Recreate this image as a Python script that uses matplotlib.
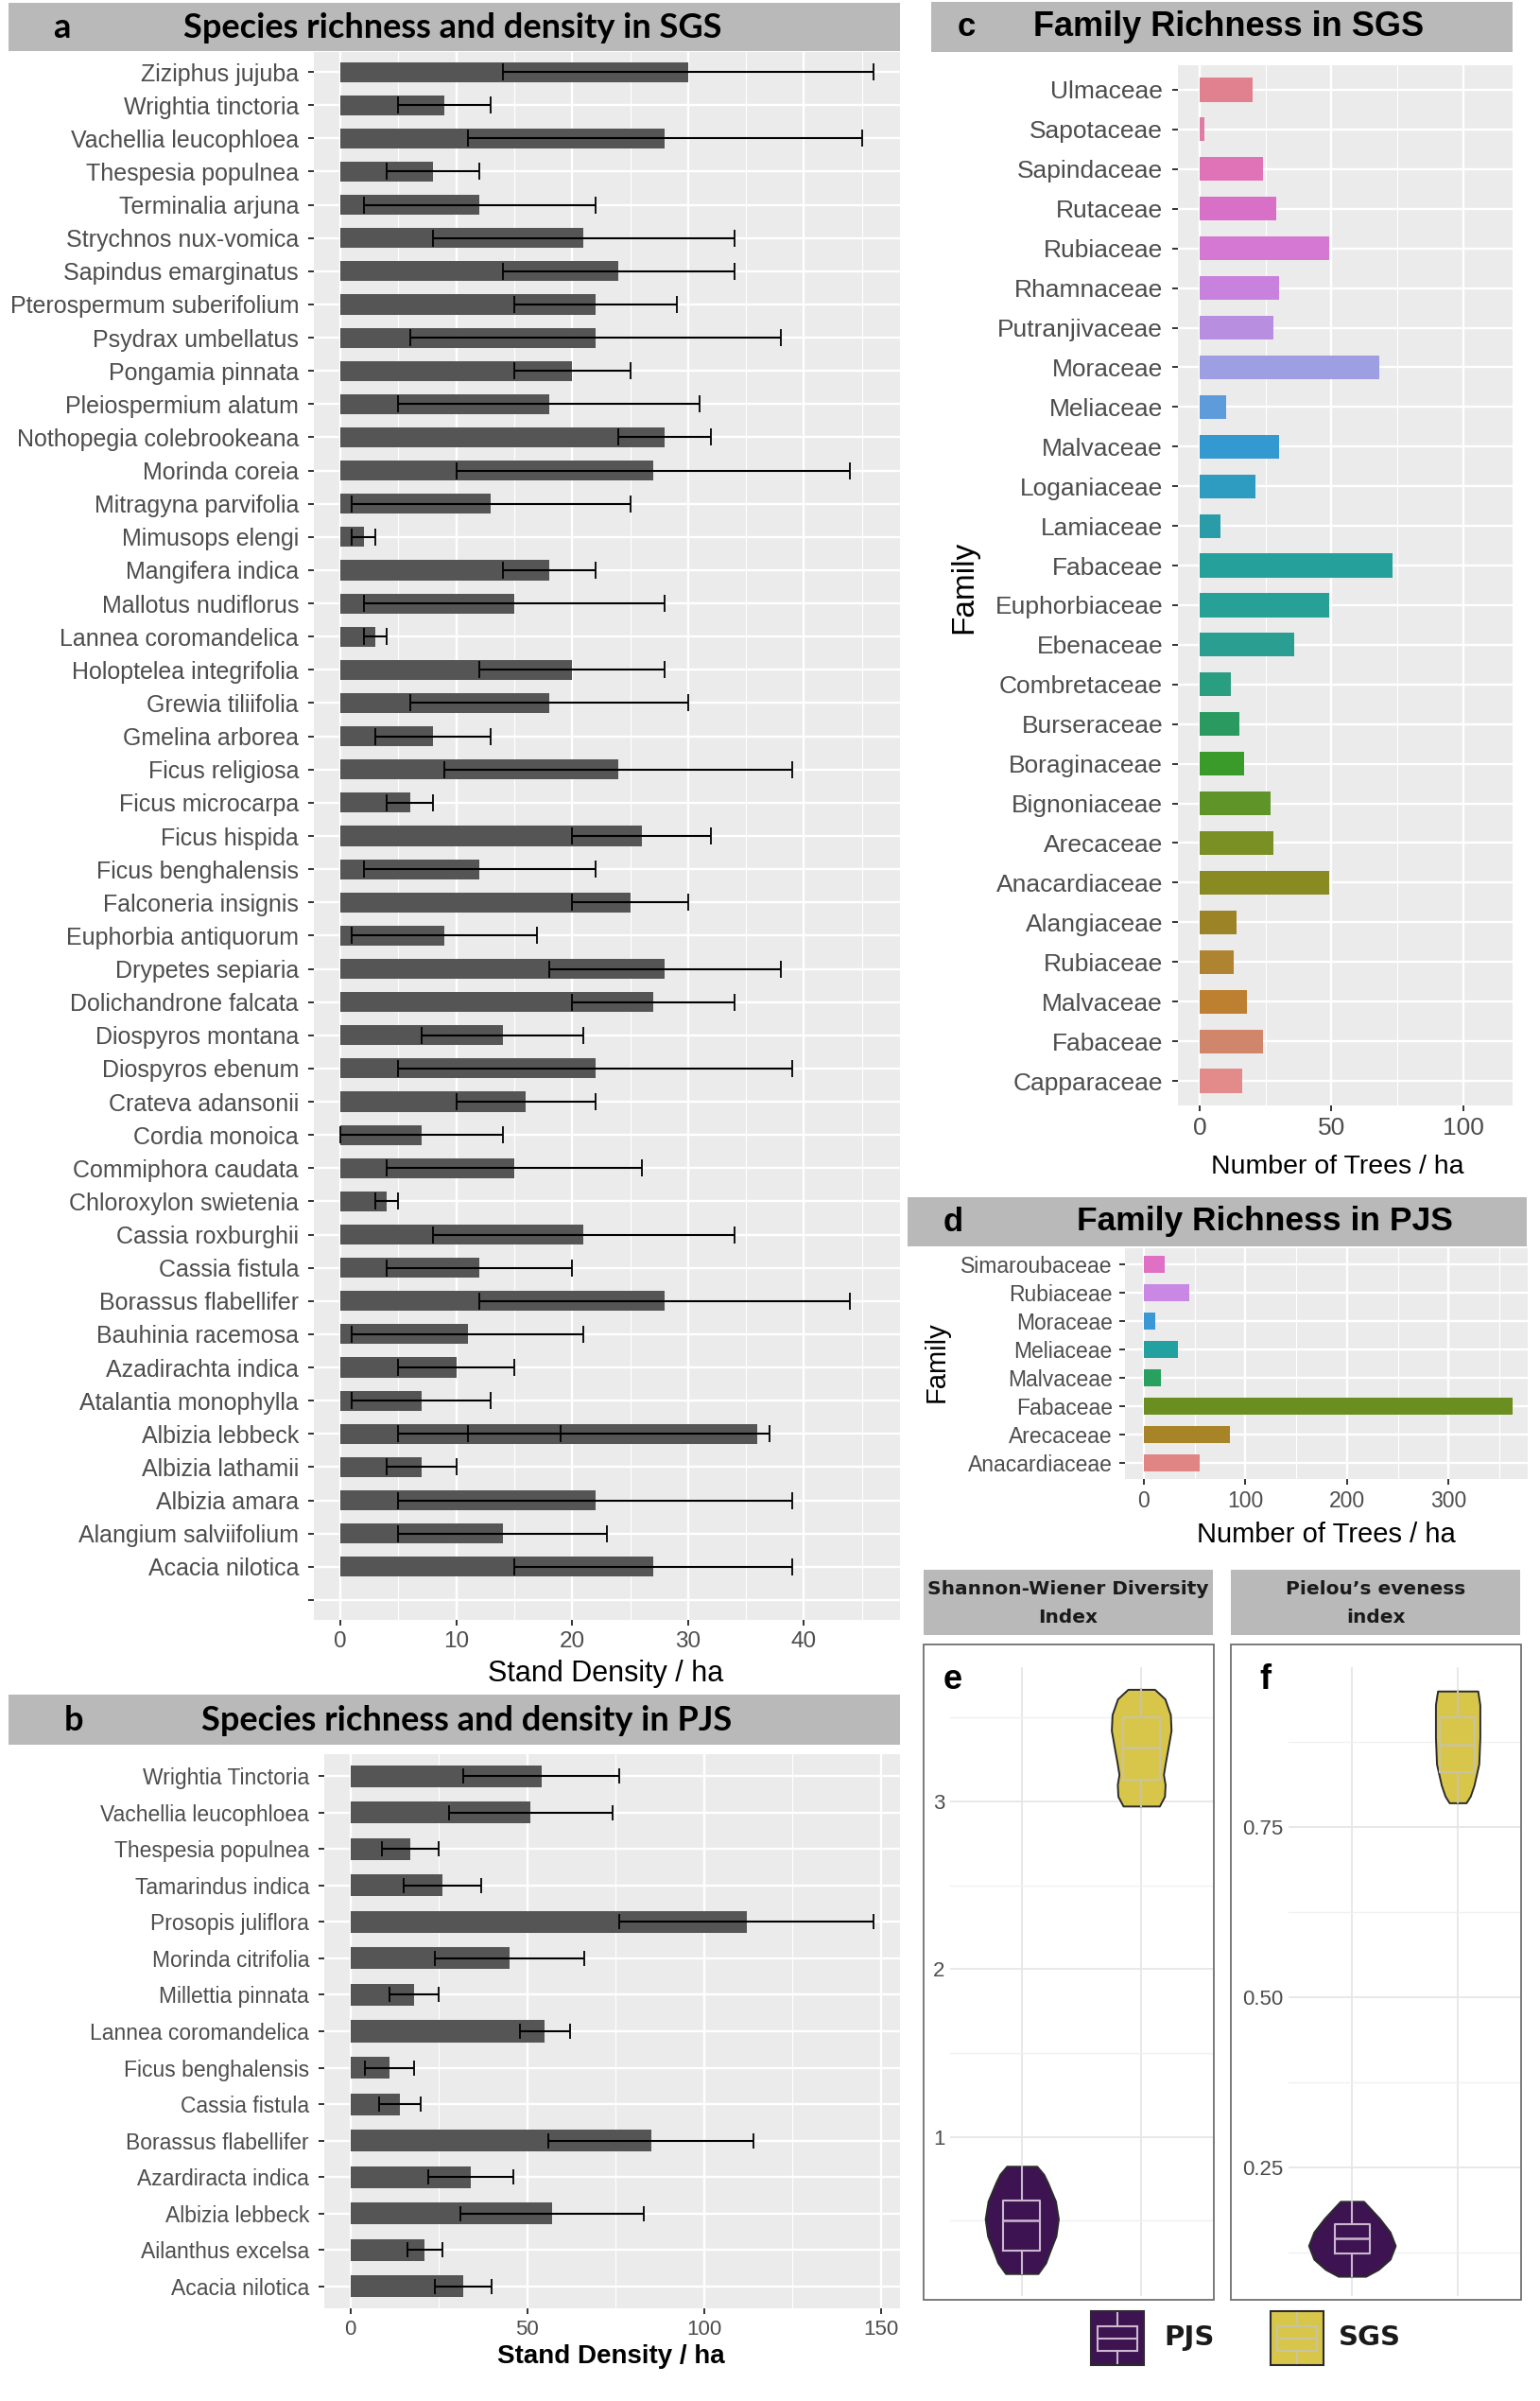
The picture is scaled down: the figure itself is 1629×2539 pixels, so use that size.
import numpy as np
import matplotlib
matplotlib.use("Agg")
import matplotlib.pyplot as plt
from matplotlib.patches import Rectangle
from matplotlib.lines import Line2D

# ---------------- data ----------------
a_species = ["Ziziphus jujuba", "Wrightia tinctoria", "Vachellia leucophloea", "Thespesia populnea",
             "Terminalia arjuna", "Strychnos nux-vomica", "Sapindus emarginatus", "Pterospermum suberifolium",
             "Psydrax umbellatus", "Pongamia pinnata", "Pleiospermium alatum", "Nothopegia colebrookeana",
             "Morinda coreia", "Mitragyna parvifolia", "Mimusops elengi", "Mangifera indica",
             "Mallotus nudiflorus", "Lannea coromandelica", "Holoptelea integrifolia", "Grewia tiliifolia",
             "Gmelina arborea", "Ficus religiosa", "Ficus microcarpa", "Ficus hispida", "Ficus benghalensis",
             "Falconeria insignis", "Euphorbia antiquorum", "Drypetes sepiaria", "Dolichandrone falcata",
             "Diospyros montana", "Diospyros ebenum", "Crateva adansonii", "Cordia monoica",
             "Commiphora caudata", "Chloroxylon swietenia", "Cassia roxburghii", "Cassia fistula",
             "Borassus flabellifer", "Bauhinia racemosa", "Azadirachta indica", "Atalantia monophylla",
             "Albizia lebbeck", "Albizia lathamii", "Albizia amara", "Alangium salviifolium",
             "Acacia nilotica", ""]
a_density = [30, 9, 28, 8, 12, 21, 24, 22, 22, 20, 18, 28, 27, 13, 2, 18, 15, 3, 20, 18, 8, 24, 6, 26, 12,
             25, 9, 28, 27, 14, 22, 16, 7, 15, 4, 21, 12, 28, 11, 10, 7, 36, 7, 22, 14, 27, 0]
a_err_lo = [14, 5, 11, 4, 2, 8, 14, 15, 6, 15, 5, 24, 10, 1, 1, 14, 2, 2, 12, 6, 3, 9, 4, 20, 2,
            20, 1, 18, 20, 7, 5, 10, 0, 4, 3, 8, 4, 12, 1, 5, 1, 5, 4, 5, 5, 15, None]
a_err_hi = [46, 13, 45, 12, 22, 34, 34, 29, 38, 25, 31, 32, 44, 25, 3, 22, 28, 4, 28, 30, 13, 39, 8, 32, 22,
            30, 17, 38, 34, 21, 39, 22, 14, 26, 5, 34, 20, 44, 21, 15, 13, 37, 10, 39, 23, 39, None]
a_extra_err = [("Albizia lebbeck", 11, 19)]

b_species = ["Wrightia Tinctoria", "Vachellia leucophloea", "Thespesia populnea", "Tamarindus indica",
             "Prosopis juliflora", "Morinda citrifolia", "Millettia pinnata", "Lannea coromandelica",
             "Ficus benghalensis", "Cassia fistula", "Borassus flabellifer", "Azardiracta indica",
             "Albizia lebbeck", "Ailanthus excelsa", "Acacia nilotica"]
b_density = [54, 51, 17, 26, 112, 45, 18, 55, 11, 14, 85, 34, 57, 21, 32]
b_err_lo = [32, 28, 9, 15, 76, 24, 11, 48, 4, 8, 56, 22, 31, 16, 24]
b_err_hi = [76, 74, 25, 37, 148, 66, 25, 62, 18, 20, 114, 46, 83, 26, 40]

c_family = ["Ulmaceae", "Sapotaceae", "Sapindaceae", "Rutaceae", "Rubiaceae", "Rhamnaceae", "Putranjivaceae",
            "Moraceae", "Meliaceae", "Malvaceae", "Loganiaceae", "Lamiaceae", "Fabaceae", "Euphorbiaceae",
            "Ebenaceae", "Combretaceae", "Burseraceae", "Boraginaceae", "Bignoniaceae", "Arecaceae",
            "Anacardiaceae", "Alangiaceae", "Rubiaceae", "Malvaceae", "Fabaceae", "Capparaceae"]
c_trees = [20, 2, 24, 29, 49, 30, 28, 68, 10, 30, 21, 8, 73, 49, 36, 12, 15, 17, 27, 28, 49, 14, 13, 18, 24, 16]
c_colors = ["#E1818F", "#E07BA5", "#E073B8", "#D870C8", "#D478D4", "#C882DE", "#B88EE0", "#9E9EE2",
            "#5E9BDB", "#3399D0", "#2E9CC0", "#2A9BA8", "#26A09A", "#27A097", "#2A9E90", "#2A9E80",
            "#2A9A60", "#3A9A2A", "#5E9428", "#7A9024", "#8A8A22", "#9C8426", "#AE8430", "#BC8030",
            "#D0866A", "#E38A8A"]

d_family = ["Simaroubaceae", "Rubiaceae", "Moraceae", "Meliaceae", "Malvaceae", "Fabaceae", "Arecaceae",
            "Anacardiaceae"]
d_trees = [21, 45, 11, 34, 17, 363, 85, 55]
d_colors = ["#E070C4", "#C888E4", "#3A98D6", "#23A0A0", "#27A060", "#6A8E20", "#A88428", "#E08484"]

sites = ["PJS", "SGS"]
site_colors = ["#3D1451", "#D8C64A"]
site_box_colors = ["#CBB8CF", "#C9C4A0"]

# violin outlines: index value and half width (x units)
e_pjs_y = [0.184, 0.248, 0.312, 0.408, 0.51, 0.616, 0.728, 0.776, 0.824]
e_pjs_w = [0.136, 0.2, 0.233, 0.286, 0.306, 0.282, 0.216, 0.183, 0.126]
e_sgs_y = [2.972, 3.03, 3.10, 3.16, 3.235, 3.329, 3.423, 3.517, 3.611, 3.668]
e_sgs_w = [0.152, 0.195, 0.2, 0.186, 0.203, 0.227, 0.25, 0.244, 0.198, 0.112]
e_box = [dict(q1=0.32, med=0.50, q3=0.62, whislo=0.184, whishi=0.824),
         dict(q1=3.13, med=3.32, q3=3.50, whislo=2.972, whishi=3.668)]

f_pjs_y = [0.09, 0.100, 0.115, 0.135, 0.155, 0.175, 0.19, 0.2]
f_pjs_w = [0.13, 0.25, 0.36, 0.41, 0.36, 0.26, 0.17, 0.11]
f_sgs_y = [0.785, 0.795, 0.811, 0.842, 0.881, 0.929, 0.949]
f_sgs_w = [0.08, 0.12, 0.155, 0.2, 0.21, 0.21, 0.19]
f_box = [dict(q1=0.124, med=0.145, q3=0.167, whislo=0.09, whishi=0.2),
         dict(q1=0.83, med=0.87, q3=0.91, whislo=0.785, whishi=0.949)]

# ---------------- layout helpers ----------------
W, H = 1629, 2539
FONT = "Liberation Sans"
plt.rcParams['font.family'] = [FONT, 'DejaVu Sans']
STRIP = "#B9B9B9"
TXT = "#4D4D4D"

fig = plt.figure(figsize=(W / 100, H / 100), dpi=100)


def rect(x0, y0, x1, y1):
    return [x0 / W, 1 - y1 / H, (x1 - x0) / W, (y1 - y0) / H]


def strip(x0, y0, x1, y1):
    fig.add_artist(Rectangle((x0 / W, 1 - y1 / H), (x1 - x0) / W, (y1 - y0) / H,
                             transform=fig.transFigure, facecolor=STRIP, edgecolor='none'))


def ftext(x, y, s, **kw):
    fig.text(x / W, 1 - y / H, s, **kw)


def gg_axes(box, xlim, ylim, xmajor, xminor, tick_fs, xtick_fs):
    ax = fig.add_axes(rect(*box))
    ax.set_facecolor("#EBEBEB")
    for s in ax.spines.values():
        s.set_visible(False)
    ax.set_xlim(*xlim)
    ax.set_ylim(*ylim)
    ax.set_xticks(xmajor)
    ax.set_xticks(xminor, minor=True)
    ax.grid(which='major', color='white', lw=1.7)
    ax.grid(which='minor', axis='x', color='white', lw=0.8)
    ax.set_axisbelow(True)
    ax.tick_params(which='minor', length=0)
    ax.tick_params(which='major', length=4.5, width=1.4, color='#333333', labelcolor=TXT)
    ax.tick_params(axis='y', labelsize=tick_fs, pad=7)
    ax.tick_params(axis='x', labelsize=xtick_fs, pad=4)
    return ax


def label_at(ax, box, x, y, which, text, **kw):
    x0, y0, x1, y1 = box
    if which == 'x':
        ax.set_xlabel(text, **kw)
        ax.xaxis.set_label_coords((x - x0) / (x1 - x0), (y1 - y) / (y1 - y0))
        ax.xaxis.label.set_va('center')
    else:
        ax.set_ylabel(text, **kw)
        ax.yaxis.set_label_coords((x - x0) / (x1 - x0), (y1 - y) / (y1 - y0))
        ax.yaxis.label.set_va('center')


def hbars(ax, labels, values, colors, lo=None, hi=None, capsize=6.5):
    pos = np.arange(len(labels))[::-1]
    ax.barh(pos, values, height=0.6, color=colors, zorder=2)
    if lo is not None:
        for p, v, l, h in zip(pos, values, lo, hi):
            if l is None:
                continue
            ax.errorbar(v, p, xerr=[[v - l], [h - v]], fmt='none', ecolor='black', elinewidth=1.5,
                        capsize=capsize, capthick=1.3, zorder=3)
    ax.set_yticks(pos)
    ax.set_yticklabels(labels)
    return pos


# ---------------- panel a ----------------
box_a = (332, 55, 952, 1713)
strip(9, 3, 952, 54)
ftext(65, 29, "a", fontsize=26, fontweight='bold', family='Lato', va='center', ha='center')
ftext(479, 29, "Species richness and density in SGS", fontsize=26, fontweight='bold', family='Lato',
      va='center', ha='center')
ax_a = gg_axes(box_a, (-2.3, 48.3), (-0.6, len(a_species) - 0.4), [0, 10, 20, 30, 40], [5, 15, 25, 35, 45],
               18, 17.5)
pos_a = hbars(ax_a, a_species, a_density, "#555555", a_err_lo, a_err_hi)
for name, l, h in a_extra_err:
    p = pos_a[a_species.index(name)]
    ax_a.errorbar((l + h) / 2, p, xerr=(h - l) / 2, fmt='none', ecolor='black', elinewidth=1.5,
                  capsize=6.5, capthick=1.3, zorder=3)
label_at(ax_a, box_a, 641, 1770, 'x', "Stand Density / ha", fontsize=22, color='black')

# ---------------- panel b ----------------
box_b = (343, 1855, 952, 2441)
strip(9, 1792, 952, 1845)
ftext(78, 1820, "b", fontsize=26, fontweight='bold', family='Lato', va='center', ha='center')
ftext(494, 1820, "Species richness and density in PJS", fontsize=26, fontweight='bold', family='Lato',
      va='center', ha='center')
ax_b = gg_axes(box_b, (-7.4, 155.4), (-0.6, len(b_species) - 0.4), [0, 50, 100, 150], [25, 75, 125],
               16.5, 16)
hbars(ax_b, b_species, b_density, "#555555", b_err_lo, b_err_hi, capsize=6)
label_at(ax_b, box_b, 646, 2492, 'x', "Stand Density / ha", fontsize=20, fontweight='bold', color='black')

# ---------------- panel c ----------------
box_c = (1246, 69, 1600, 1169)
strip(985, 2, 1600, 55)
ftext(1022, 29, "c", fontsize=25, fontweight='bold', va='center', ha='center')
ftext(1300, 29, "Family Richness in SGS", fontsize=26, fontweight='bold', va='center', ha='center')
ax_c = gg_axes(box_c, (-8.2, 118.6), (-0.62, len(c_family) - 0.38), [0, 50, 100], [25, 75], 19, 19)
hbars(ax_c, c_family, c_trees, c_colors)
label_at(ax_c, box_c, 1415, 1234, 'x', "Number of Trees / ha", fontsize=20.5, color='black')
label_at(ax_c, box_c, 1020, 621, 'y', "Family", fontsize=24, color='black')

# ---------------- panel d ----------------
box_d = (1190, 1320, 1616, 1564)
strip(960, 1266, 1615, 1318)
ftext(1008, 1292, "d", fontsize=25, fontweight='bold', va='center', ha='center')
ftext(1338, 1292, "Family Richness in PJS", fontsize=25.5, fontweight='bold', va='center', ha='center')
ax_d = gg_axes(box_d, (-18.5, 377.7), (-0.55, len(d_family) - 0.45), [0, 100, 200, 300], [50, 150, 250, 350],
               16.5, 16.5)
ax_d.tick_params(axis='y', pad=5)
hbars(ax_d, d_family, d_trees, d_colors)
label_at(ax_d, box_d, 1403, 1623, 'x', "Number of Trees / ha", fontsize=21, color='black')
label_at(ax_d, box_d, 991, 1440, 'y', "Family", fontsize=21, color='black')


# ---------------- panels e, f ----------------
def violin_panel(box, border, strip_box, strip_text, letter, lx, ylim, yticks, yticklabels, yminor,
                 outlines, boxes, boxw):
    strip(*strip_box)
    sx = (strip_box[0] + strip_box[2]) / 2
    ftext(sx, (strip_box[1] + strip_box[3]) / 2 + 1, strip_text, fontsize=14.5, fontweight='bold',
          family='DejaVu Sans', ha='center', va='center', linespacing=1.75, color='#1A1A1A')
    bx0, by0, bx1, by1 = border
    fig.add_artist(Rectangle((bx0 / W, 1 - by1 / H), (bx1 - bx0) / W, (by1 - by0) / H,
                             transform=fig.transFigure, facecolor='none', edgecolor='#707070', lw=1.3))
    ax = fig.add_axes(rect(*box))
    ax.set_facecolor('white')
    for s in ax.spines.values():
        s.set_visible(False)
    ax.set_xlim(0.4, 2.6)
    ax.set_ylim(*ylim)
    ax.set_xticks([1, 2])
    ax.set_xticklabels([])
    ax.set_yticks(yticks)
    ax.set_yticklabels(yticklabels)
    ax.set_yticks(yminor, minor=True)
    ax.grid(which='major', color='#E6E6E6', lw=1.3)
    ax.grid(which='minor', axis='y', color='#F0F0F0', lw=1.0)
    ax.set_axisbelow(True)
    ax.tick_params(which='both', length=0)
    ax.tick_params(axis='y', labelsize=16, labelcolor=TXT, pad=4)
    for i, (yy, ww) in enumerate(outlines):
        yy = np.array(yy)
        ww = np.array(ww)
        ax.fill_betweenx(yy, i + 1 - ww, i + 1 + ww, facecolor=site_colors[i], edgecolor='#2B2B2B',
                         lw=1.4, zorder=2)
        st = dict(boxes[i])
        st['fliers'] = []
        ax.bxp([st], positions=[i + 1], widths=boxw, showcaps=False, showfliers=False,
               boxprops=dict(color=site_box_colors[i], lw=1.5),
               whiskerprops=dict(color=site_box_colors[i], lw=1.5),
               medianprops=dict(color=site_box_colors[i], lw=1.8), manage_ticks=False, zorder=3)
    ftext(lx, 1776, letter, fontsize=26, fontweight='bold', ha='center', va='center')
    return ax


violin_panel((1005, 1763, 1283, 2428), (977, 1739, 1284, 2432), (977, 1660, 1283, 1729),
             "Shannon-Wiener Diversity\nIndex", "e", 1008, (0.05, 3.80), [1, 2, 3], ["1", "2", "3"],
             [0.5, 1.5, 2.5, 3.5], [(e_pjs_y, e_pjs_w), (e_sgs_y, e_sgs_w)], e_box, 0.31)
violin_panel((1363, 1763, 1609, 2428), (1302, 1739, 1609, 2432), (1302, 1660, 1608, 1729),
             "Pielou\u2019s eveness\nindex", "f", 1338, (0.061, 0.984), [0.25, 0.5, 0.75],
             ["0.25", "0.50", "0.75"], [0.125, 0.375, 0.625, 0.875],
             [(f_pjs_y, f_pjs_w), (f_sgs_y, f_sgs_w)], f_box, 0.33)

# ---------------- legend ----------------
for i, (kx, tx) in enumerate([(1154, 1231), (1344, 1416)]):
    k0, k1, ky0, ky1 = kx, kx + 56, 2444, 2501
    fig.add_artist(Rectangle((k0 / W, 1 - ky1 / H), (k1 - k0) / W, (ky1 - ky0) / H, transform=fig.transFigure,
                             facecolor=site_colors[i], edgecolor='#2B2B2B', lw=1.5))
    bc = site_box_colors[i]
    ix0, ix1, iy0, iy1 = k0 + 7, k1 - 7, 2460, 2486
    fig.add_artist(Rectangle((ix0 / W, 1 - iy1 / H), (ix1 - ix0) / W, (iy1 - iy0) / H,
                             transform=fig.transFigure, facecolor='none', edgecolor=bc, lw=1.5))
    cx = (k0 + k1) / 2
    for (xa, ya, xb, yb) in [(ix0, 2473, ix1, 2473), (cx, ky0 + 2, cx, iy0), (cx, iy1, cx, ky1 - 2)]:
        fig.add_artist(Line2D([xa / W, xb / W], [1 - ya / H, 1 - yb / H], transform=fig.transFigure,
                              color=bc, lw=1.5))
    ftext(tx, 2472, sites[i], fontsize=21, fontweight='bold', family='DejaVu Sans', ha='left', va='center',
          color='#1A1A1A')

fig.savefig("out.png", dpi=100, facecolor='white')
